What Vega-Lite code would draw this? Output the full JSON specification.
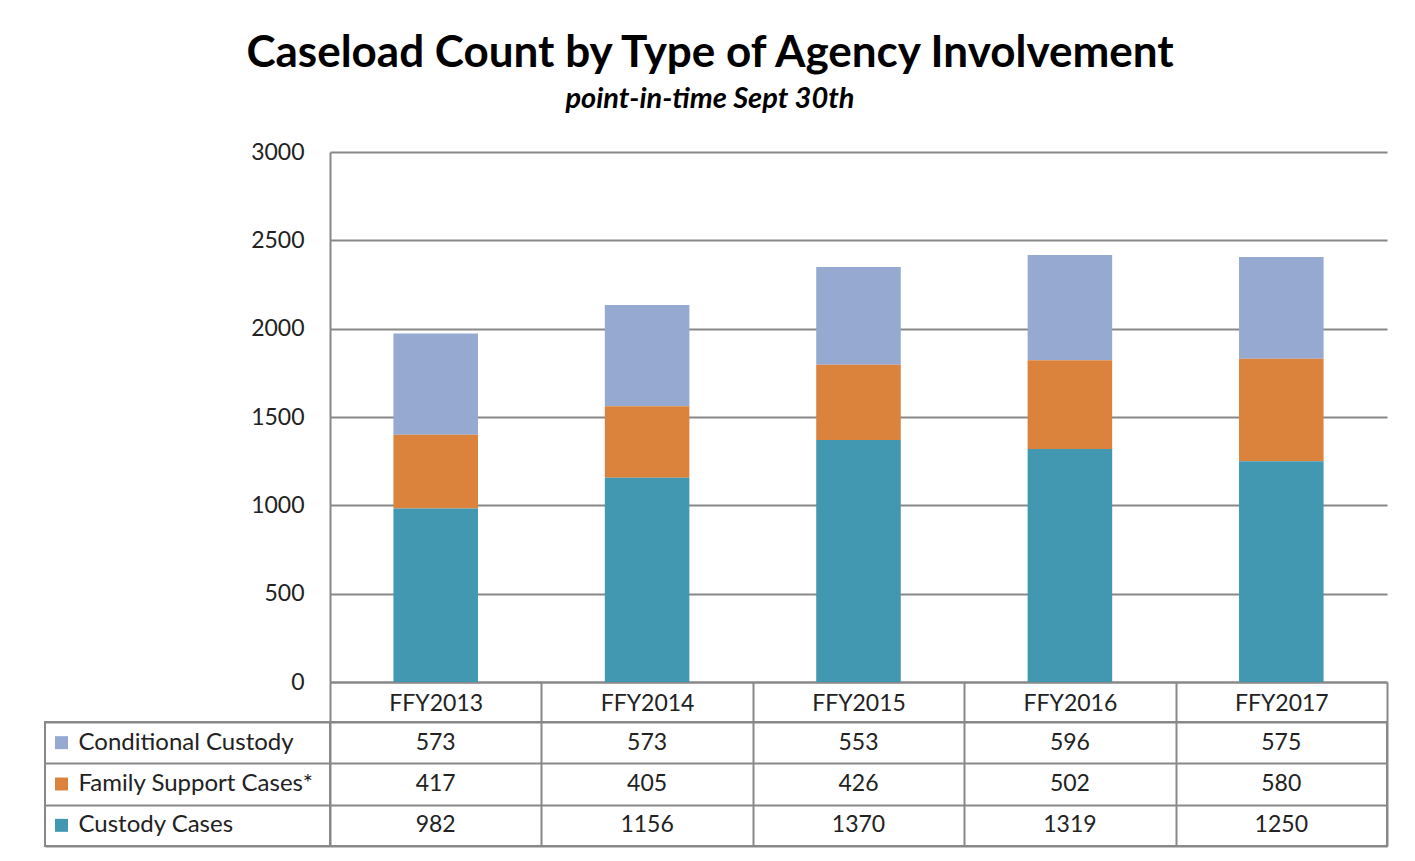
{
  "$schema": "https://vega.github.io/schema/vega-lite/v6.json",
  "background": "white",
  "padding": {"left": 44, "top": 32, "right": 29, "bottom": 14},
  "title": {
    "text": "Caseload Count by Type of Agency Involvement",
    "subtitle": "point-in-time Sept 30th",
    "anchor": "middle",
    "font": "Lato",
    "fontSize": 44,
    "fontWeight": "bold",
    "color": "#000000",
    "subtitleFont": "Lato",
    "subtitleFontSize": 29,
    "subtitleFontWeight": "bold",
    "subtitleFontStyle": "italic",
    "subtitleColor": "#000000",
    "subtitlePadding": 9,
    "offset": 27,
    "dx": -6
  },
  "datasets": {
    "cases": [
      {"year": "FFY2013", "series": "Conditional Custody", "value": 573},
      {"year": "FFY2014", "series": "Conditional Custody", "value": 573},
      {"year": "FFY2015", "series": "Conditional Custody", "value": 553},
      {"year": "FFY2016", "series": "Conditional Custody", "value": 596},
      {"year": "FFY2017", "series": "Conditional Custody", "value": 575},
      {"year": "FFY2013", "series": "Family Support Cases*", "value": 417},
      {"year": "FFY2014", "series": "Family Support Cases*", "value": 405},
      {"year": "FFY2015", "series": "Family Support Cases*", "value": 426},
      {"year": "FFY2016", "series": "Family Support Cases*", "value": 502},
      {"year": "FFY2017", "series": "Family Support Cases*", "value": 580},
      {"year": "FFY2013", "series": "Custody Cases", "value": 982},
      {"year": "FFY2014", "series": "Custody Cases", "value": 1156},
      {"year": "FFY2015", "series": "Custody Cases", "value": 1370},
      {"year": "FFY2016", "series": "Custody Cases", "value": 1319},
      {"year": "FFY2017", "series": "Custody Cases", "value": 1250}
    ],
    "series": [
      {"series": "Conditional Custody"},
      {"series": "Family Support Cases*"},
      {"series": "Custody Cases"}
    ]
  },
  "columns": 2,
  "spacing": {"row": 40, "column": 0},
  "bounds": "flush",
  "resolve": {"scale": {"x": "independent", "y": "independent", "color": "independent"}},
  "concat": [
    {
      "width": 285,
      "height": 530,
      "data": {"values": [{"blank": ""}]},
      "mark": {"type": "text", "opacity": 0},
      "encoding": {"text": {"field": "blank"}}
    },
    {
      "width": 1057,
      "height": 530,
      "data": {"name": "cases"},
      "transform": [
        {"window": [{"op": "row_number", "as": "rowIndex"}]}
      ],
      "mark": {"type": "bar", "width": {"band": 0.4}},
      "encoding": {
        "x": {
          "field": "year",
          "type": "nominal",
          "title": null,
          "scale": {"paddingInner": 0, "paddingOuter": 0},
          "axis": {
            "orient": "bottom",
            "labelAngle": 0,
            "tickBand": "extent",
            "ticks": true,
            "tickSize": 40,
            "tickColor": "#888888",
            "tickWidth": 2,
            "domainColor": "#888888",
            "domainWidth": 2,
            "labelPadding": -30,
            "labelFont": "Lato",
            "labelFontSize": 23,
            "labelColor": "#222222",
            "grid": false
          }
        },
        "y": {
          "field": "value",
          "type": "quantitative",
          "stack": "zero",
          "title": null,
          "scale": {"domain": [0, 3000], "nice": false},
          "axis": {
            "values": [0, 500, 1000, 1500, 2000, 2500, 3000],
            "format": "d",
            "ticks": false,
            "labelPadding": 26,
            "labelFont": "Lato",
            "labelFontSize": 23,
            "labelColor": "#222222",
            "domainColor": "#888888",
            "domainWidth": 2,
            "grid": true,
            "gridColor": "#888888",
            "gridWidth": 2
          }
        },
        "color": {
          "field": "series",
          "type": "nominal",
          "scale": {
            "domain": ["Conditional Custody", "Family Support Cases*", "Custody Cases"],
            "range": ["#95A9D1", "#DB833D", "#4298B0"]
          },
          "legend": null
        },
        "order": {"field": "rowIndex", "type": "quantitative", "sort": "descending"}
      }
    },
    {
      "width": 285,
      "height": 124,
      "data": {"name": "series"},
      "view": {"stroke": "#888888", "strokeWidth": 2},
      "encoding": {
        "y": {
          "field": "series",
          "type": "nominal",
          "sort": ["Conditional Custody", "Family Support Cases*", "Custody Cases"],
          "title": null,
          "scale": {"paddingInner": 0, "paddingOuter": 0},
          "axis": {
            "labels": false,
            "ticks": false,
            "domain": false,
            "tickBand": "extent",
            "grid": true,
            "gridColor": "#888888",
            "gridWidth": 2
          }
        }
      },
      "layer": [
        {
          "mark": {"type": "square", "size": 169, "opacity": 1, "xOffset": -126},
          "encoding": {
            "color": {
              "field": "series",
              "type": "nominal",
              "scale": {
                "domain": ["Conditional Custody", "Family Support Cases*", "Custody Cases"],
                "range": ["#95A9D1", "#DB833D", "#4298B0"]
              },
              "legend": null
            }
          }
        },
        {
          "mark": {"type": "text", "align": "left", "xOffset": -109, "font": "Lato", "fontSize": 24, "color": "#222222"},
          "encoding": {"text": {"field": "series"}}
        }
      ]
    },
    {
      "width": 1057,
      "height": 124,
      "data": {"name": "cases"},
      "view": {"stroke": "#888888", "strokeWidth": 2},
      "mark": {"type": "text", "font": "Lato", "fontSize": 23, "color": "#222222"},
      "encoding": {
        "x": {
          "field": "year",
          "type": "nominal",
          "title": null,
          "scale": {"paddingInner": 0, "paddingOuter": 0},
          "axis": {
            "labels": false,
            "ticks": false,
            "domain": false,
            "tickBand": "extent",
            "grid": true,
            "gridColor": "#888888",
            "gridWidth": 2
          }
        },
        "y": {
          "field": "series",
          "type": "nominal",
          "sort": ["Conditional Custody", "Family Support Cases*", "Custody Cases"],
          "title": null,
          "scale": {"paddingInner": 0, "paddingOuter": 0},
          "axis": {
            "labels": false,
            "ticks": false,
            "domain": false,
            "tickBand": "extent",
            "grid": true,
            "gridColor": "#888888",
            "gridWidth": 2
          }
        },
        "text": {"field": "value", "type": "quantitative", "format": "d"}
      }
    }
  ],
  "config": {
    "view": {"stroke": null},
    "font": "Lato"
  }
}
